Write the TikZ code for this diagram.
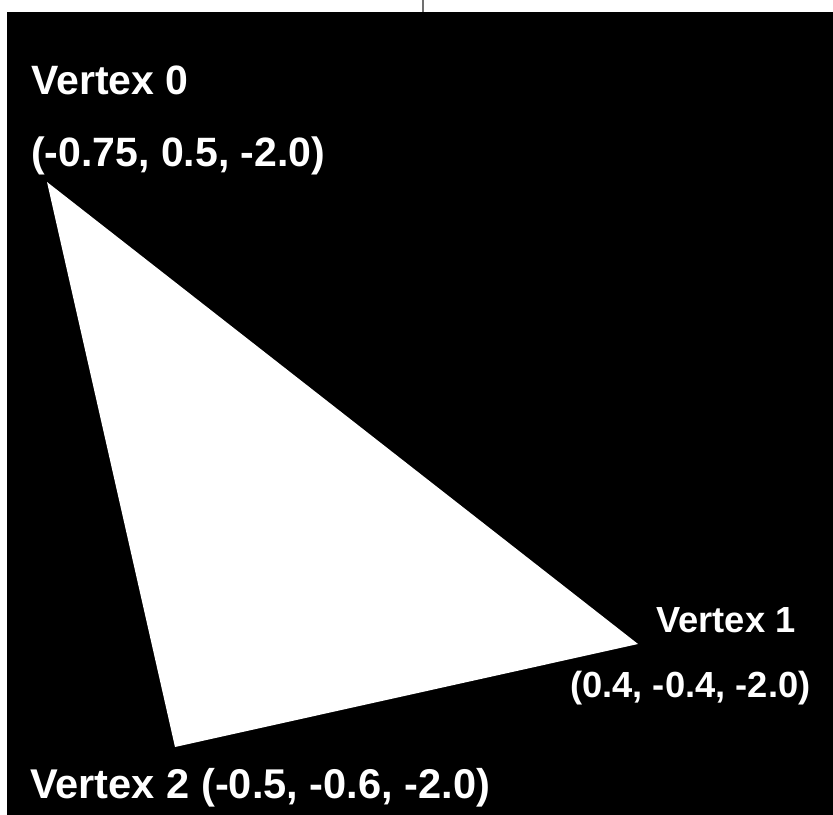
\documentclass[tikz,border=0pt]{standalone}
\usepackage{fontspec}
\setmainfont{Liberation Sans}
\usepackage{xcolor}
\definecolor{fond}{HTML}{000000}
\definecolor{trait}{HTML}{707070}
\usetikzlibrary{positioning}

\begin{document}
\begin{tikzpicture}[x=0.03cm,y=-0.03cm,
  etiq/.style={text=white,inner sep=0pt,anchor=base west,font=\fontsize{35pt}{40pt}\bfseries\selectfont},
  etiqpetit/.style={etiq,font=\fontsize{31pt}{36pt}\bfseries\selectfont},
  tri/.style={fill=white}
]
\useasboundingbox (0,0) rectangle (833,815);
% fond
\fill[fond] (7,12) rectangle (833,815);
\draw[trait,line width=0.06cm] (423,0) -- (423,12);
% sommets
\coordinate (v0) at (47,182);
\coordinate (v1) at (638,644);
\coordinate (v2) at (175,747);
\fill[tri] (v0) -- (v1) -- (v2) -- cycle;
% etiquettes
\node[etiq] (n0) at (31,95) {Vertex 0};
\node[etiq] (c0) at (31,167) {(-0.75, 0.5, -2.0)};
\node[etiqpetit] (n1) at (656,632) {Vertex 1};
\node[etiqpetit] (c1) at (570,697) {(0.4, -0.4, -2.0)};
\node[etiq,font=\fontsize{35.5pt}{40pt}\bfseries\selectfont] (n2) at (30,798) {Vertex 2 (-0.5, -0.6, -2.0)};
\end{tikzpicture}
\end{document}
